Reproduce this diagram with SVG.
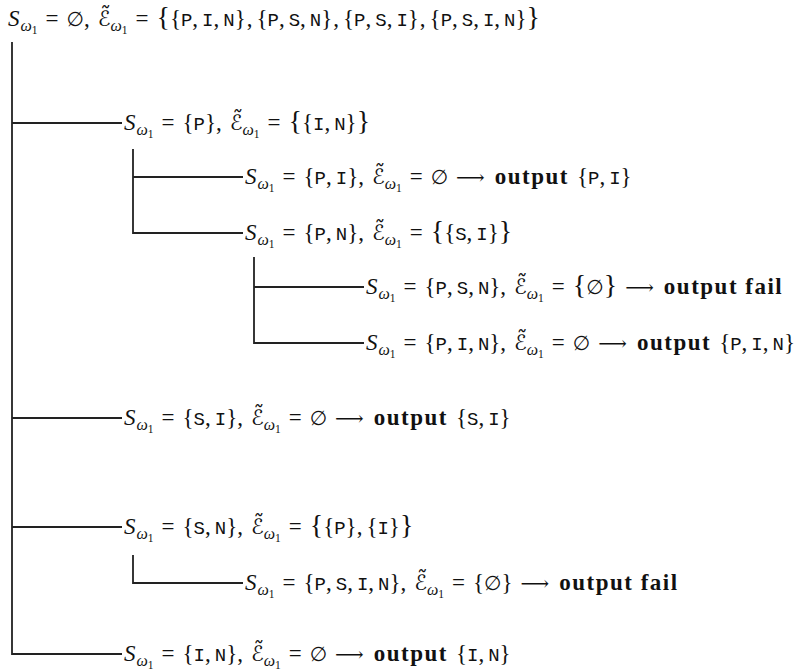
<svg xmlns="http://www.w3.org/2000/svg" width="805" height="672" viewBox="0 0 805 672">
<style>
text { font-family: "Liberation Serif", "DejaVu Serif", serif; font-size: 23px; fill: #111; }
.i { font-style: italic; }
.w { font-style: italic; font-size: 16px; }
.one { font-size: 11.5px; }
.tt { font-family: "Liberation Mono", "DejaVu Sans Mono", monospace; font-size: 19px; }
.b { font-weight: bold; letter-spacing: 1.5px; }
.sym { font-family: "DejaVu Serif", "DejaVu Sans", serif; font-size: 20px; }
.cal { font-family: "DejaVu Sans", sans-serif; font-style: italic; font-size: 21px; }
.big { font-size: 28px; }
.conn path { fill: none; stroke: #222; stroke-width: 1.8; }
</style>
<g class="conn" id="connectors">
<path d="M12,42 V654 H122"/>
<path d="M12,123 H122"/>
<path d="M12,418 H122"/>
<path d="M12,527 H122"/>
<path d="M133,149 V233 H243"/>
<path d="M133,177 H243"/>
<path d="M254,257 V343 H364"/>
<path d="M254,287 H364"/>
<path d="M133,555 V583 H243"/>
</g>
<g id="n0"><text x="8" y="26"><tspan class="i">S</tspan><tspan class="w" dx="1" dy="5">ω</tspan><tspan class="one" dy="2.5">1</tspan><tspan dx="8" dy="-7.5">=</tspan><tspan class="sym" dx="8">∅</tspan><tspan>,</tspan><tspan class="cal" dx="8">ℰ̃</tspan><tspan class="w" dy="5">ω</tspan><tspan class="one" dy="2.5">1</tspan><tspan dx="8" dy="-7.5">=</tspan><tspan class="big" dx="8">{</tspan><tspan>{</tspan><tspan class="tt">P</tspan><tspan>,</tspan><tspan class="tt" dx="4">I</tspan><tspan>,</tspan><tspan class="tt" dx="4">N</tspan><tspan>}</tspan><tspan dx="1">,</tspan><tspan dx="4">{</tspan><tspan class="tt">P</tspan><tspan>,</tspan><tspan class="tt" dx="4">S</tspan><tspan>,</tspan><tspan class="tt" dx="4">N</tspan><tspan>}</tspan><tspan dx="1">,</tspan><tspan dx="4">{</tspan><tspan class="tt">P</tspan><tspan>,</tspan><tspan class="tt" dx="4">S</tspan><tspan>,</tspan><tspan class="tt" dx="4">I</tspan><tspan>}</tspan><tspan dx="1">,</tspan><tspan dx="4">{</tspan><tspan class="tt">P</tspan><tspan>,</tspan><tspan class="tt" dx="4">S</tspan><tspan>,</tspan><tspan class="tt" dx="4">I</tspan><tspan>,</tspan><tspan class="tt" dx="4">N</tspan><tspan>}</tspan><tspan class="big">}</tspan></text></g>
<g id="n1"><text x="124" y="130"><tspan class="i">S</tspan><tspan class="w" dx="1" dy="5">ω</tspan><tspan class="one" dy="2.5">1</tspan><tspan dx="8" dy="-7.5">=</tspan><tspan dx="8">{</tspan><tspan class="tt">P</tspan><tspan>},</tspan><tspan class="cal" dx="8">ℰ̃</tspan><tspan class="w" dy="5">ω</tspan><tspan class="one" dy="2.5">1</tspan><tspan dx="8" dy="-7.5">=</tspan><tspan class="big" dx="8">{</tspan><tspan>{</tspan><tspan class="tt">I</tspan><tspan>,</tspan><tspan class="tt" dx="4">N</tspan><tspan>}</tspan><tspan class="big">}</tspan></text></g>
<g id="n2"><text x="245" y="184"><tspan class="i">S</tspan><tspan class="w" dx="1" dy="5">ω</tspan><tspan class="one" dy="2.5">1</tspan><tspan dx="8" dy="-7.5">=</tspan><tspan dx="8">{</tspan><tspan class="tt">P</tspan><tspan>,</tspan><tspan class="tt" dx="4">I</tspan><tspan>},</tspan><tspan class="cal" dx="8">ℰ̃</tspan><tspan class="w" dy="5">ω</tspan><tspan class="one" dy="2.5">1</tspan><tspan dx="8" dy="-7.5">=</tspan><tspan class="sym" dx="8">∅</tspan><tspan class="sym" dx="8">⟶</tspan><tspan class="b" dx="10">output</tspan><tspan dx="8">{</tspan><tspan class="tt">P</tspan><tspan>,</tspan><tspan class="tt" dx="4">I</tspan><tspan>}</tspan></text></g>
<g id="n3"><text x="245" y="240"><tspan class="i">S</tspan><tspan class="w" dx="1" dy="5">ω</tspan><tspan class="one" dy="2.5">1</tspan><tspan dx="8" dy="-7.5">=</tspan><tspan dx="8">{</tspan><tspan class="tt">P</tspan><tspan>,</tspan><tspan class="tt" dx="4">N</tspan><tspan>},</tspan><tspan class="cal" dx="8">ℰ̃</tspan><tspan class="w" dy="5">ω</tspan><tspan class="one" dy="2.5">1</tspan><tspan dx="8" dy="-7.5">=</tspan><tspan class="big" dx="8">{</tspan><tspan>{</tspan><tspan class="tt">S</tspan><tspan>,</tspan><tspan class="tt" dx="4">I</tspan><tspan>}</tspan><tspan class="big">}</tspan></text></g>
<g id="n4"><text x="366" y="294"><tspan class="i">S</tspan><tspan class="w" dx="1" dy="5">ω</tspan><tspan class="one" dy="2.5">1</tspan><tspan dx="8" dy="-7.5">=</tspan><tspan dx="8">{</tspan><tspan class="tt">P</tspan><tspan>,</tspan><tspan class="tt" dx="4">S</tspan><tspan>,</tspan><tspan class="tt" dx="4">N</tspan><tspan>},</tspan><tspan class="cal" dx="8">ℰ̃</tspan><tspan class="w" dy="5">ω</tspan><tspan class="one" dy="2.5">1</tspan><tspan dx="8" dy="-7.5">=</tspan><tspan class="big" dx="8">{</tspan><tspan class="sym">∅</tspan><tspan class="big">}</tspan><tspan class="sym" dx="8">⟶</tspan><tspan class="b" dx="10">output fail</tspan></text></g>
<g id="n5"><text x="366" y="350"><tspan class="i">S</tspan><tspan class="w" dx="1" dy="5">ω</tspan><tspan class="one" dy="2.5">1</tspan><tspan dx="8" dy="-7.5">=</tspan><tspan dx="8">{</tspan><tspan class="tt">P</tspan><tspan>,</tspan><tspan class="tt" dx="4">I</tspan><tspan>,</tspan><tspan class="tt" dx="4">N</tspan><tspan>},</tspan><tspan class="cal" dx="8">ℰ̃</tspan><tspan class="w" dy="5">ω</tspan><tspan class="one" dy="2.5">1</tspan><tspan dx="8" dy="-7.5">=</tspan><tspan class="sym" dx="8">∅</tspan><tspan class="sym" dx="8">⟶</tspan><tspan class="b" dx="10">output</tspan><tspan dx="8">{</tspan><tspan class="tt">P</tspan><tspan>,</tspan><tspan class="tt" dx="4">I</tspan><tspan>,</tspan><tspan class="tt" dx="4">N</tspan><tspan>}</tspan></text></g>
<g id="n6"><text x="124" y="425"><tspan class="i">S</tspan><tspan class="w" dx="1" dy="5">ω</tspan><tspan class="one" dy="2.5">1</tspan><tspan dx="8" dy="-7.5">=</tspan><tspan dx="8">{</tspan><tspan class="tt">S</tspan><tspan>,</tspan><tspan class="tt" dx="4">I</tspan><tspan>},</tspan><tspan class="cal" dx="8">ℰ̃</tspan><tspan class="w" dy="5">ω</tspan><tspan class="one" dy="2.5">1</tspan><tspan dx="8" dy="-7.5">=</tspan><tspan class="sym" dx="8">∅</tspan><tspan class="sym" dx="8">⟶</tspan><tspan class="b" dx="10">output</tspan><tspan dx="8">{</tspan><tspan class="tt">S</tspan><tspan>,</tspan><tspan class="tt" dx="4">I</tspan><tspan>}</tspan></text></g>
<g id="n7"><text x="124" y="534"><tspan class="i">S</tspan><tspan class="w" dx="1" dy="5">ω</tspan><tspan class="one" dy="2.5">1</tspan><tspan dx="8" dy="-7.5">=</tspan><tspan dx="8">{</tspan><tspan class="tt">S</tspan><tspan>,</tspan><tspan class="tt" dx="4">N</tspan><tspan>},</tspan><tspan class="cal" dx="8">ℰ̃</tspan><tspan class="w" dy="5">ω</tspan><tspan class="one" dy="2.5">1</tspan><tspan dx="8" dy="-7.5">=</tspan><tspan class="big" dx="8">{</tspan><tspan>{</tspan><tspan class="tt">P</tspan><tspan>},</tspan><tspan dx="4">{</tspan><tspan class="tt">I</tspan><tspan>}</tspan><tspan class="big">}</tspan></text></g>
<g id="n8"><text x="245" y="590"><tspan class="i">S</tspan><tspan class="w" dx="1" dy="5">ω</tspan><tspan class="one" dy="2.5">1</tspan><tspan dx="8" dy="-7.5">=</tspan><tspan dx="8">{</tspan><tspan class="tt">P</tspan><tspan>,</tspan><tspan class="tt" dx="4">S</tspan><tspan>,</tspan><tspan class="tt" dx="4">I</tspan><tspan>,</tspan><tspan class="tt" dx="4">N</tspan><tspan>},</tspan><tspan class="cal" dx="8">ℰ̃</tspan><tspan class="w" dy="5">ω</tspan><tspan class="one" dy="2.5">1</tspan><tspan dx="8" dy="-7.5">=</tspan><tspan dx="8">{</tspan><tspan class="sym">∅</tspan><tspan>}</tspan><tspan class="sym" dx="8">⟶</tspan><tspan class="b" dx="10">output fail</tspan></text></g>
<g id="n9"><text x="124" y="661"><tspan class="i">S</tspan><tspan class="w" dx="1" dy="5">ω</tspan><tspan class="one" dy="2.5">1</tspan><tspan dx="8" dy="-7.5">=</tspan><tspan dx="8">{</tspan><tspan class="tt">I</tspan><tspan>,</tspan><tspan class="tt" dx="4">N</tspan><tspan>},</tspan><tspan class="cal" dx="8">ℰ̃</tspan><tspan class="w" dy="5">ω</tspan><tspan class="one" dy="2.5">1</tspan><tspan dx="8" dy="-7.5">=</tspan><tspan class="sym" dx="8">∅</tspan><tspan class="sym" dx="8">⟶</tspan><tspan class="b" dx="10">output</tspan><tspan dx="8">{</tspan><tspan class="tt">I</tspan><tspan>,</tspan><tspan class="tt" dx="4">N</tspan><tspan>}</tspan></text></g>
</svg>
